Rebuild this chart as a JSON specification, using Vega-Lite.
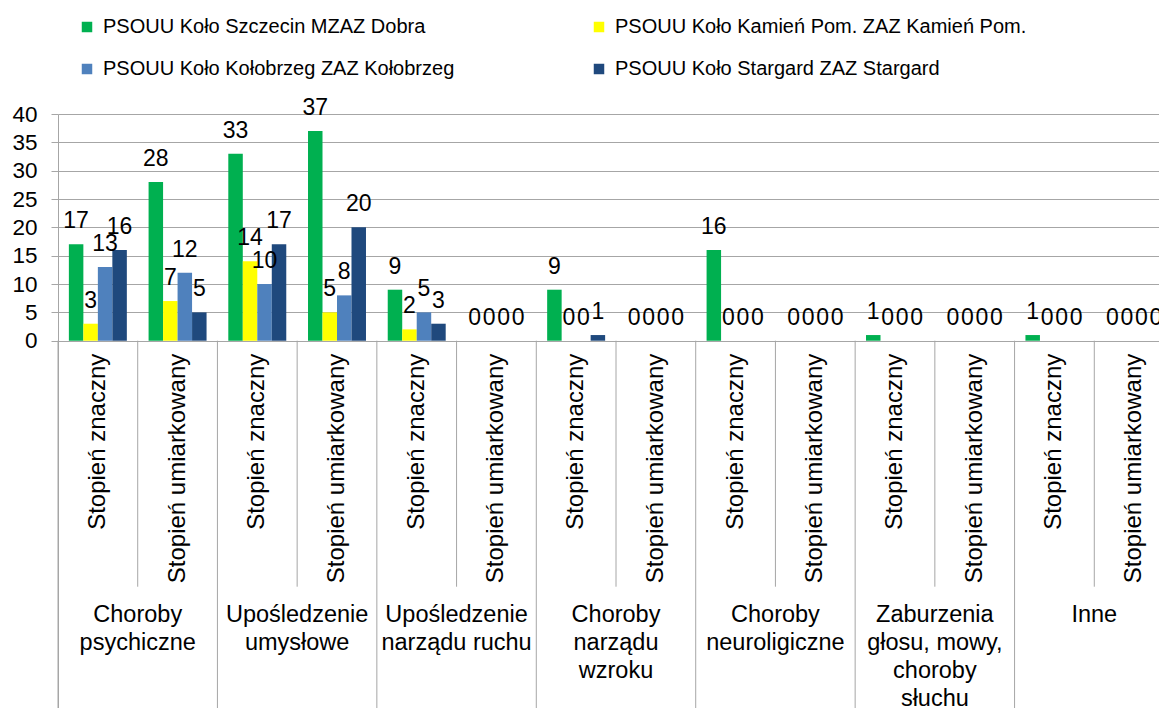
{
  "$schema": "https://vega.github.io/schema/vega-lite/v6.json",
  "width": 1101,
  "height": 594,
  "autosize": {"type": "none"},
  "padding": {"left": 58, "top": 114, "right": 0, "bottom": 0},
  "background": "white",
  "config": {
    "font": "Liberation Sans",
    "view": {"stroke": null},
    "text": {"font": "Liberation Sans", "color": "#000000"}
  },
  "datasets": {
    "bars": [
      {"slot": "1a", "series": "PSOUU Koło Szczecin MZAZ Dobra", "value": 17},
      {"slot": "1a", "series": "PSOUU Koło Kamień Pom. ZAZ Kamień Pom.", "value": 3},
      {"slot": "1a", "series": "PSOUU Koło Kołobrzeg ZAZ Kołobrzeg", "value": 13},
      {"slot": "1a", "series": "PSOUU Koło Stargard ZAZ Stargard", "value": 16},
      {"slot": "1b", "series": "PSOUU Koło Szczecin MZAZ Dobra", "value": 28},
      {"slot": "1b", "series": "PSOUU Koło Kamień Pom. ZAZ Kamień Pom.", "value": 7},
      {"slot": "1b", "series": "PSOUU Koło Kołobrzeg ZAZ Kołobrzeg", "value": 12},
      {"slot": "1b", "series": "PSOUU Koło Stargard ZAZ Stargard", "value": 5},
      {"slot": "2a", "series": "PSOUU Koło Szczecin MZAZ Dobra", "value": 33},
      {"slot": "2a", "series": "PSOUU Koło Kamień Pom. ZAZ Kamień Pom.", "value": 14},
      {"slot": "2a", "series": "PSOUU Koło Kołobrzeg ZAZ Kołobrzeg", "value": 10},
      {"slot": "2a", "series": "PSOUU Koło Stargard ZAZ Stargard", "value": 17},
      {"slot": "2b", "series": "PSOUU Koło Szczecin MZAZ Dobra", "value": 37},
      {"slot": "2b", "series": "PSOUU Koło Kamień Pom. ZAZ Kamień Pom.", "value": 5},
      {"slot": "2b", "series": "PSOUU Koło Kołobrzeg ZAZ Kołobrzeg", "value": 8},
      {"slot": "2b", "series": "PSOUU Koło Stargard ZAZ Stargard", "value": 20},
      {"slot": "3a", "series": "PSOUU Koło Szczecin MZAZ Dobra", "value": 9},
      {"slot": "3a", "series": "PSOUU Koło Kamień Pom. ZAZ Kamień Pom.", "value": 2},
      {"slot": "3a", "series": "PSOUU Koło Kołobrzeg ZAZ Kołobrzeg", "value": 5},
      {"slot": "3a", "series": "PSOUU Koło Stargard ZAZ Stargard", "value": 3},
      {"slot": "3b", "series": "PSOUU Koło Szczecin MZAZ Dobra", "value": 0},
      {"slot": "3b", "series": "PSOUU Koło Kamień Pom. ZAZ Kamień Pom.", "value": 0},
      {"slot": "3b", "series": "PSOUU Koło Kołobrzeg ZAZ Kołobrzeg", "value": 0},
      {"slot": "3b", "series": "PSOUU Koło Stargard ZAZ Stargard", "value": 0},
      {"slot": "4a", "series": "PSOUU Koło Szczecin MZAZ Dobra", "value": 9},
      {"slot": "4a", "series": "PSOUU Koło Kamień Pom. ZAZ Kamień Pom.", "value": 0},
      {"slot": "4a", "series": "PSOUU Koło Kołobrzeg ZAZ Kołobrzeg", "value": 0},
      {"slot": "4a", "series": "PSOUU Koło Stargard ZAZ Stargard", "value": 1},
      {"slot": "4b", "series": "PSOUU Koło Szczecin MZAZ Dobra", "value": 0},
      {"slot": "4b", "series": "PSOUU Koło Kamień Pom. ZAZ Kamień Pom.", "value": 0},
      {"slot": "4b", "series": "PSOUU Koło Kołobrzeg ZAZ Kołobrzeg", "value": 0},
      {"slot": "4b", "series": "PSOUU Koło Stargard ZAZ Stargard", "value": 0},
      {"slot": "5a", "series": "PSOUU Koło Szczecin MZAZ Dobra", "value": 16},
      {"slot": "5a", "series": "PSOUU Koło Kamień Pom. ZAZ Kamień Pom.", "value": 0},
      {"slot": "5a", "series": "PSOUU Koło Kołobrzeg ZAZ Kołobrzeg", "value": 0},
      {"slot": "5a", "series": "PSOUU Koło Stargard ZAZ Stargard", "value": 0},
      {"slot": "5b", "series": "PSOUU Koło Szczecin MZAZ Dobra", "value": 0},
      {"slot": "5b", "series": "PSOUU Koło Kamień Pom. ZAZ Kamień Pom.", "value": 0},
      {"slot": "5b", "series": "PSOUU Koło Kołobrzeg ZAZ Kołobrzeg", "value": 0},
      {"slot": "5b", "series": "PSOUU Koło Stargard ZAZ Stargard", "value": 0},
      {"slot": "6a", "series": "PSOUU Koło Szczecin MZAZ Dobra", "value": 1},
      {"slot": "6a", "series": "PSOUU Koło Kamień Pom. ZAZ Kamień Pom.", "value": 0},
      {"slot": "6a", "series": "PSOUU Koło Kołobrzeg ZAZ Kołobrzeg", "value": 0},
      {"slot": "6a", "series": "PSOUU Koło Stargard ZAZ Stargard", "value": 0},
      {"slot": "6b", "series": "PSOUU Koło Szczecin MZAZ Dobra", "value": 0},
      {"slot": "6b", "series": "PSOUU Koło Kamień Pom. ZAZ Kamień Pom.", "value": 0},
      {"slot": "6b", "series": "PSOUU Koło Kołobrzeg ZAZ Kołobrzeg", "value": 0},
      {"slot": "6b", "series": "PSOUU Koło Stargard ZAZ Stargard", "value": 0},
      {"slot": "7a", "series": "PSOUU Koło Szczecin MZAZ Dobra", "value": 1},
      {"slot": "7a", "series": "PSOUU Koło Kamień Pom. ZAZ Kamień Pom.", "value": 0},
      {"slot": "7a", "series": "PSOUU Koło Kołobrzeg ZAZ Kołobrzeg", "value": 0},
      {"slot": "7a", "series": "PSOUU Koło Stargard ZAZ Stargard", "value": 0},
      {"slot": "7b", "series": "PSOUU Koło Szczecin MZAZ Dobra", "value": 0},
      {"slot": "7b", "series": "PSOUU Koło Kamień Pom. ZAZ Kamień Pom.", "value": 0},
      {"slot": "7b", "series": "PSOUU Koło Kołobrzeg ZAZ Kołobrzeg", "value": 0},
      {"slot": "7b", "series": "PSOUU Koło Stargard ZAZ Stargard", "value": 0}
    ],
    "slots": [
      {"slot": "1a", "sub": "Stopień znaczny"},
      {"slot": "1b", "sub": "Stopień umiarkowany"},
      {"slot": "2a", "sub": "Stopień znaczny"},
      {"slot": "2b", "sub": "Stopień umiarkowany"},
      {"slot": "3a", "sub": "Stopień znaczny"},
      {"slot": "3b", "sub": "Stopień umiarkowany"},
      {"slot": "4a", "sub": "Stopień znaczny"},
      {"slot": "4b", "sub": "Stopień umiarkowany"},
      {"slot": "5a", "sub": "Stopień znaczny"},
      {"slot": "5b", "sub": "Stopień umiarkowany"},
      {"slot": "6a", "sub": "Stopień znaczny"},
      {"slot": "6b", "sub": "Stopień umiarkowany"},
      {"slot": "7a", "sub": "Stopień znaczny"},
      {"slot": "7b", "sub": "Stopień umiarkowany"}
    ],
    "groups": [
      {"slot": "1b", "group": "Choroby\npsychiczne"},
      {"slot": "2b", "group": "Upośledzenie\numysłowe"},
      {"slot": "3b", "group": "Upośledzenie\nnarządu ruchu"},
      {"slot": "4b", "group": "Choroby\nnarządu\nwzroku"},
      {"slot": "5b", "group": "Choroby\nneuroligiczne"},
      {"slot": "6b", "group": "Zaburzenia\ngłosu, mowy,\nchoroby\nsłuchu"},
      {"slot": "7b", "group": "Inne"}
    ]
  },
  "encoding": {
    "x": {
      "field": "slot",
      "type": "nominal",
      "scale": {
        "domain": ["1a","1b","2a","2b","3a","3b","4a","4b","5a","5b","6a","6b","7a","7b"],
        "range": [0, 1116],
        "paddingInner": 0,
        "paddingOuter": 0
      },
      "axis": null
    }
  },
  "resolve": {"scale": {"y": "shared", "x": "shared"}},
  "layer": [
    {
      "data": {"name": "bars"},
      "mark": {"type": "bar", "clip": false},
      "encoding": {
        "y": {
          "field": "value",
          "type": "quantitative",
          "scale": {"domain": [-64.8, 40], "nice": false, "zero": false},
          "axis": {
            "values": [0, 5, 10, 15, 20, 25, 30, 35, 40],
            "title": null,
            "grid": true,
            "gridColor": "#A6A6A6",
            "gridWidth": 1,
            "domainColor": "#A6A6A6",
            "domainWidth": 1,
            "tickColor": "#A6A6A6",
            "tickSize": 7,
            "labelFontSize": 22.5,
            "labelColor": "#000000",
            "labelFont": "Liberation Sans",
            "labelPadding": 14
          }
        },
        "y2": {"datum": 0},
        "xOffset": {
          "field": "series",
          "type": "nominal",
          "scale": {
            "domain": ["PSOUU Koło Szczecin MZAZ Dobra", "PSOUU Koło Kamień Pom. ZAZ Kamień Pom.", "PSOUU Koło Kołobrzeg ZAZ Kołobrzeg", "PSOUU Koło Stargard ZAZ Stargard"],
            "paddingInner": 0,
            "paddingOuter": 0.75
          }
        },
        "color": {
          "field": "series",
          "type": "nominal",
          "scale": {
            "domain": ["PSOUU Koło Szczecin MZAZ Dobra", "PSOUU Koło Kamień Pom. ZAZ Kamień Pom.", "PSOUU Koło Kołobrzeg ZAZ Kołobrzeg", "PSOUU Koło Stargard ZAZ Stargard"],
            "range": ["#00B050", "#FFFF00", "#4F81BD", "#1F497D"]
          },
          "legend": {
            "title": null,
            "orient": "none",
            "legendX": 19,
            "legendY": -97,
            "columns": 2,
            "direction": "horizontal",
            "columnPadding": 134,
            "rowPadding": 22,
            "padding": 0,
            "symbolType": "square",
            "symbolSize": 110,
            "symbolStrokeWidth": 0,
            "labelFontSize": 20,
            "labelFont": "Liberation Sans",
            "labelColor": "#000000",
            "labelOffset": 6,
            "labelLimit": 600
          }
        }
      }
    },
    {
      "data": {"name": "bars"},
      "mark": {"type": "text", "baseline": "alphabetic", "align": "center", "dy": -16, "fontSize": 23},
      "encoding": {
        "y": {"field": "value", "type": "quantitative"},
        "xOffset": {"field": "series", "type": "nominal"},
        "text": {"field": "value", "type": "quantitative"}
      }
    },
    {
      "data": {"name": "slots"},
      "transform": [{"filter": "datum.sub === 'Stopień umiarkowany'"}],
      "mark": {"type": "rule", "color": "#A6A6A6", "strokeWidth": 1},
      "encoding": {
        "x": {"field": "slot", "type": "nominal", "bandPosition": 0},
        "y": {"datum": 0},
        "y2": {"datum": -43.4}
      }
    },
    {
      "data": {"name": "slots"},
      "transform": [{"filter": "datum.sub === 'Stopień znaczny'"}],
      "mark": {"type": "rule", "color": "#A6A6A6", "strokeWidth": 1},
      "encoding": {
        "x": {"field": "slot", "type": "nominal", "bandPosition": 0},
        "y": {"datum": 0},
        "y2": {"datum": -64.8}
      }
    },
    {
      "data": {"name": "slots"},
      "mark": {"type": "text", "angle": 270, "align": "right", "baseline": "middle", "fontSize": 24},
      "encoding": {
        "y": {"datum": -2.3},
        "text": {"field": "sub", "type": "nominal"}
      }
    },
    {
      "data": {"name": "groups"},
      "mark": {"type": "text", "align": "center", "baseline": "top", "fontSize": 23.5, "lineBreak": "\n", "lineHeight": 28},
      "encoding": {
        "x": {"field": "slot", "type": "nominal", "bandPosition": 0},
        "y": {"datum": -46.2},
        "text": {"field": "group", "type": "nominal"}
      }
    }
  ]
}
